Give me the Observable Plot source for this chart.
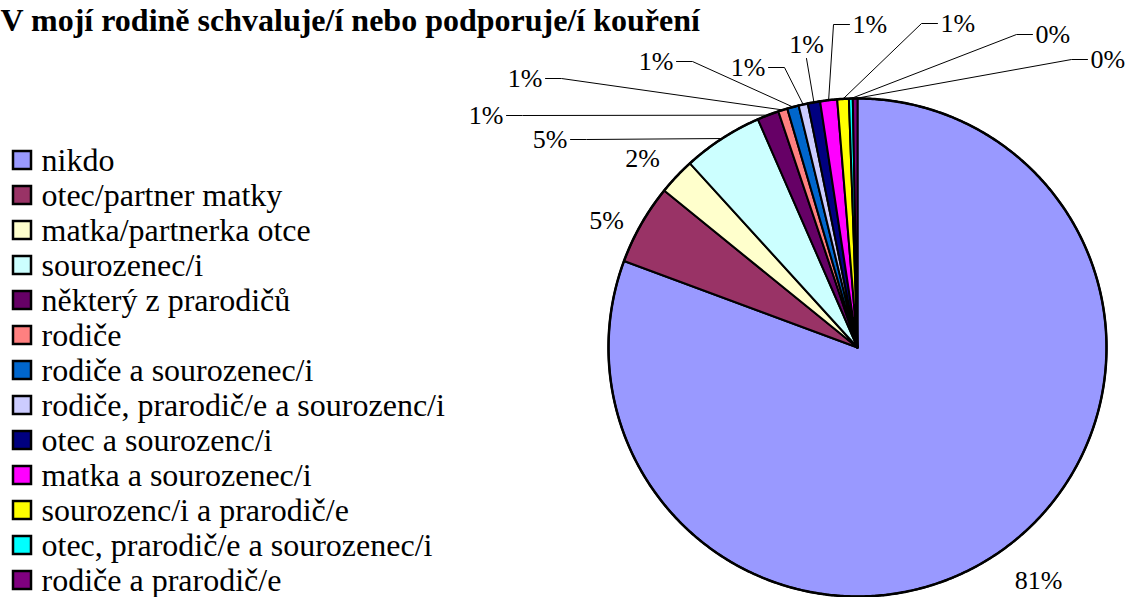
<!DOCTYPE html>
<html><head><meta charset="utf-8">
<script src="https://cdn.jsdelivr.net/npm/d3@7"></script>
<script src="https://cdn.jsdelivr.net/npm/@observablehq/plot@0.6"></script>
<style>
html,body{margin:0;padding:0;background:#fff;}
#chart{width:1134px;height:597px;overflow:hidden;}
</style></head><body><div id="chart"></div>
<script>
// ---- data ----
const title = "V mojí rodině schvaluje/í nebo podporuje/í kouření";
const categories = [
  "nikdo",
  "otec/partner matky",
  "matka/partnerka otce",
  "sourozenec/i",
  "některý z prarodičů",
  "rodiče",
  "rodiče a sourozenec/i",
  "rodiče, prarodič/e a sourozenc/i",
  "otec a sourozenc/i",
  "matka a sourozenec/i",
  "sourozenc/i a prarodič/e",
  "otec, prarodič/e a sourozenec/i",
  "rodiče a prarodič/e"
];
const shares = [80.65, 5.2, 2.4, 5.2, 1.4, 0.6, 0.75, 0.6, 0.8, 1.1, 0.75, 0.25, 0.3];
const colors = ["#9999FF","#993366","#FFFFCC","#CCFFFF","#660066","#FF8080","#0066CC",
                "#CCCCFF","#000080","#FF00FF","#FFFF00","#00FFFF","#800080"];

// ---- layout (pixels) ----
const W = 1134, H = 597;
const CX = 857, CY = 347, R = 249;
const labelLayout = [
  {x: 1038, y: 580, kind: "none"},
  {x: 606,  y: 220, kind: "none"},
  {x: 642,  y: 158, kind: "none"},
  {x: 570,  y: 139, kind: "left"},
  {x: 506,  y: 115, kind: "left"},
  {x: 545,  y: 78,  kind: "left"},
  {x: 676,  y: 61,  kind: "left"},
  {x: 768,  y: 67,  kind: "left"},
  {x: 806,  y: 44,  kind: "above"},
  {x: 849,  y: 24,  kind: "right"},
  {x: 937,  y: 23,  kind: "right"},
  {x: 1032, y: 34,  kind: "right"},
  {x: 1087, y: 59,  kind: "right"}
];
const legendTop = 160, legendStep = 35, legendBox = 18, legendX = 13, legendTextX = 41;
const font = "Liberation Serif";
const labelSize = 26, legendSize = 32, titleSize = 32;

// ---- geometry from data ----
const rows = categories.map((name, i) => ({name, value: shares[i], i}));
const arcs = d3.pie().sort(null).value(d => d.value)(rows);
const px = a => CX + R * Math.sin(a);
const py = a => CY - R * Math.cos(a);

const slicePts = [];
arcs.forEach(a => {
  const name = a.data.name;
  slicePts.push({x: CX, y: CY, name});
  const n = Math.max(2, Math.ceil((a.endAngle - a.startAngle) / 0.005));
  for (let k = 0; k <= n; k++) {
    const t = a.startAngle + (a.endAngle - a.startAngle) * k / n;
    slicePts.push({x: px(t), y: py(t), name});
  }
  slicePts.push({x: CX, y: CY, name});
});
const circlePts = d3.range(0, 721).map(k => {
  const t = k / 720 * 2 * Math.PI;
  return {x: px(t), y: py(t)};
});

const labels = arcs.map((a, i) => {
  const L = labelLayout[i];
  const txt = Math.round(a.data.value) + "%";
  let tx = L.x, anchor = "middle";
  if (L.kind === "left") { tx = L.x - 3; anchor = "end"; }
  if (L.kind === "right") { tx = L.x + 3; anchor = "start"; }
  return {txt, x: tx, y: L.y, anchor, a, L};
});
const leaders = [];
labels.forEach((l, i) => {
  const L = l.L;
  if (L.kind === "none") return;
  const mid = (l.a.startAngle + l.a.endAngle) / 2;
  const end = {x: px(mid), y: py(mid)};
  let pts;
  if (L.kind === "left") pts = [{x: L.x, y: L.y}, {x: L.x + 16, y: L.y}, end];
  else if (L.kind === "right") pts = [{x: L.x, y: L.y}, {x: L.x - 16, y: L.y}, end];
  else pts = [{x: L.x, y: L.y + 14}, end];
  pts.forEach(p => leaders.push({...p, id: i}));
});

const legendRows = rows.map((d, i) => ({
  name: d.name,
  y1: legendTop + i * legendStep - legendBox / 2,
  y2: legendTop + i * legendStep + legendBox / 2,
  ty: legendTop + i * legendStep
}));

const txtOpts = {fontFamily: font, fill: "#000"};
const plot = Plot.plot({
  width: W, height: H, margin: 0,
  style: {background: "#fff", overflow: "visible", fontFamily: font},
  x: {domain: [0, W], range: [0, W], axis: null},
  y: {domain: [0, H], range: [0, H], axis: null},
  color: {domain: categories, range: colors},
  marks: [
    Plot.line(slicePts, {x: "x", y: "y", z: "name", fill: "name", stroke: "#000",
      strokeWidth: 2, strokeLinejoin: "round", curve: "linear"}),
    Plot.line(circlePts, {x: "x", y: "y", stroke: "#000", strokeWidth: 2.5, fill: "none"}),
    Plot.line(leaders, {x: "x", y: "y", z: "id", stroke: "#000", strokeWidth: 1}),
    Plot.text(labels.filter(l => l.anchor === "middle"), {x: "x", y: "y", text: "txt",
      textAnchor: "middle", fontSize: labelSize, ...txtOpts}),
    Plot.text(labels.filter(l => l.anchor === "end"), {x: "x", y: "y", text: "txt",
      textAnchor: "end", fontSize: labelSize, ...txtOpts}),
    Plot.text(labels.filter(l => l.anchor === "start"), {x: "x", y: "y", text: "txt",
      textAnchor: "start", fontSize: labelSize, ...txtOpts}),
    Plot.rect(legendRows, {x1: legendX, x2: legendX + legendBox, y1: "y1", y2: "y2",
      fill: "name", stroke: "#000", strokeWidth: 2.5}),
    Plot.text(legendRows, {x: legendTextX, y: "ty", text: "name", textAnchor: "start",
      fontSize: legendSize, ...txtOpts}),
    Plot.text([title], {x: 0, y: 30, text: d => d, textAnchor: "start", lineAnchor: "bottom",
      fontSize: titleSize, fontWeight: "bold", ...txtOpts})
  ]
});
document.getElementById("chart").appendChild(plot);
</script></body></html>
